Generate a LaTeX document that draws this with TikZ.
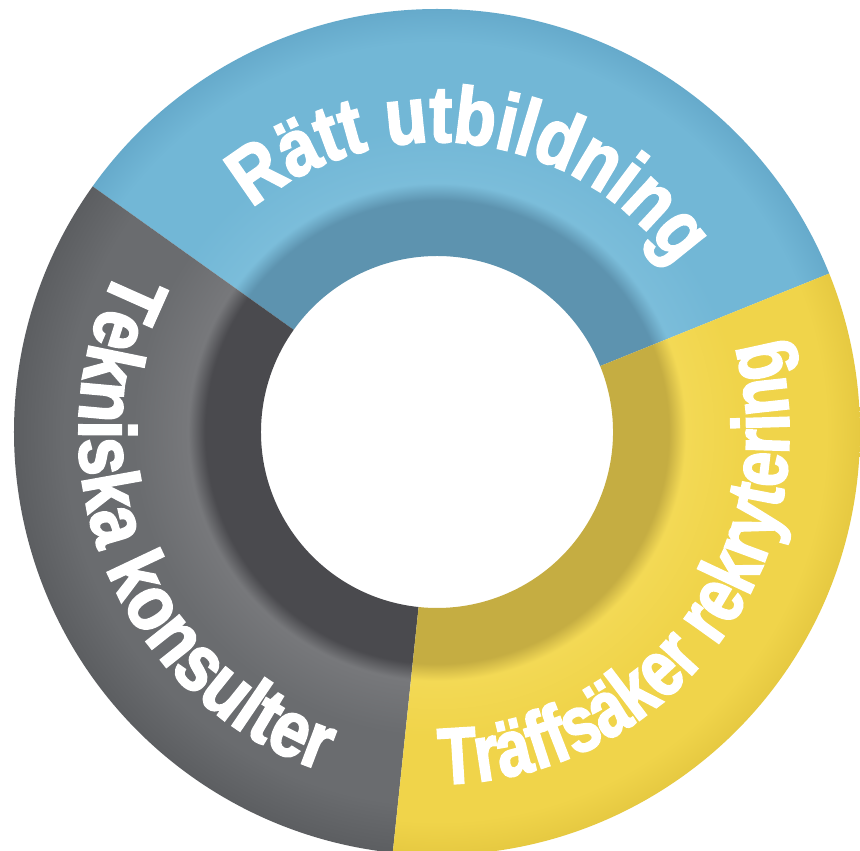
\documentclass[tikz,border=0pt]{standalone}
\usepackage{fontspec}
\usetikzlibrary{decorations.text}
\newfontfamily\blueringfont[FakeStretch=0.85,FakeBold=2.4]{Liberation Sans Bold}
\newfontfamily\grayringfont[FakeStretch=0.85,FakeBold=2.4]{Liberation Sans Bold}
\newfontfamily\yellowringfont[FakeStretch=0.78,FakeBold=2.4]{Liberation Sans Bold}
% colours
\definecolor{bdark}{HTML}{5D93AF}
\definecolor{blight}{HTML}{7BBDDA}
\definecolor{bmain}{HTML}{72B7D6}
\definecolor{bedge}{HTML}{66AACB}
\definecolor{ydark}{HTML}{C5AD42}
\definecolor{ylight}{HTML}{F3D955}
\definecolor{ymain}{HTML}{F0D44A}
\definecolor{yedge}{HTML}{E6C941}
\definecolor{gdark}{HTML}{4A4A4E}
\definecolor{glight}{HTML}{77787B}
\definecolor{gmain}{HTML}{6A6C6F}
\definecolor{gedge}{HTML}{5C5E61}
% radial profiles: 25bp = outer radius 423 (pgf maps the inner 50bp square to the path box)
\pgfdeclareradialshading{blueband}{\pgfpointorigin}{%
  color(0bp)=(bdark); color(13.7bp)=(bdark); color(14.7bp)=(blight);
  color(18bp)=(bmain); color(23bp)=(bmain); color(25bp)=(bedge); color(50bp)=(bedge)}
\pgfdeclareradialshading{yellowband}{\pgfpointorigin}{%
  color(0bp)=(ydark); color(13.7bp)=(ydark); color(14.7bp)=(ylight);
  color(18bp)=(ymain); color(23bp)=(ymain); color(25bp)=(yedge); color(50bp)=(yedge)}
\pgfdeclareradialshading{grayband}{\pgfpointorigin}{%
  color(0bp)=(gdark); color(13.7bp)=(gdark); color(14.7bp)=(glight);
  color(18bp)=(gmain); color(22bp)=(gmain); color(25bp)=(gedge); color(50bp)=(gedge)}
\tikzset{
  ringtext/.style={decorate, decoration={text along path, text align=center, text color=white, text={#1}}}
}
\newcommand{\segment}[3]{% start angle, end angle, shading
  \begin{scope}
    \clip (#1:176) -- (#1:423) arc[start angle=#1, end angle=#2, radius=423]
          -- (#2:176) arc[start angle=#2, end angle=#1, radius=176] -- cycle;
    \shade[shading=#3] (0,0) circle (423);
  \end{scope}}
\begin{document}
\begin{tikzpicture}[x=1pt,y=1pt]
  \useasboundingbox[fill=white] (-437,-419) rectangle (423,432);
  \segment{22}{144.5}{blueband}
  \segment{144.5}{264}{grayband}
  \segment{264}{382}{yellowband}
  % texts
  \path[ringtext={|\blueringfont\fontsize{80}{80}\selectfont|Rätt utbildning}]
    (144.5:290) arc[start angle=144.5, end angle=20, radius=290];
  \path[ringtext={|\grayringfont\fontsize{80}{80}\selectfont|Tekniska konsulter}]
    (144:358) arc[start angle=144, end angle=260, radius=358];
  \path[ringtext={|\yellowringfont\fontsize{80}{80}\selectfont|Träffsäker rekrytering}]
    (264:352) arc[start angle=264, end angle=382, radius=352];
\end{tikzpicture}
\end{document}
